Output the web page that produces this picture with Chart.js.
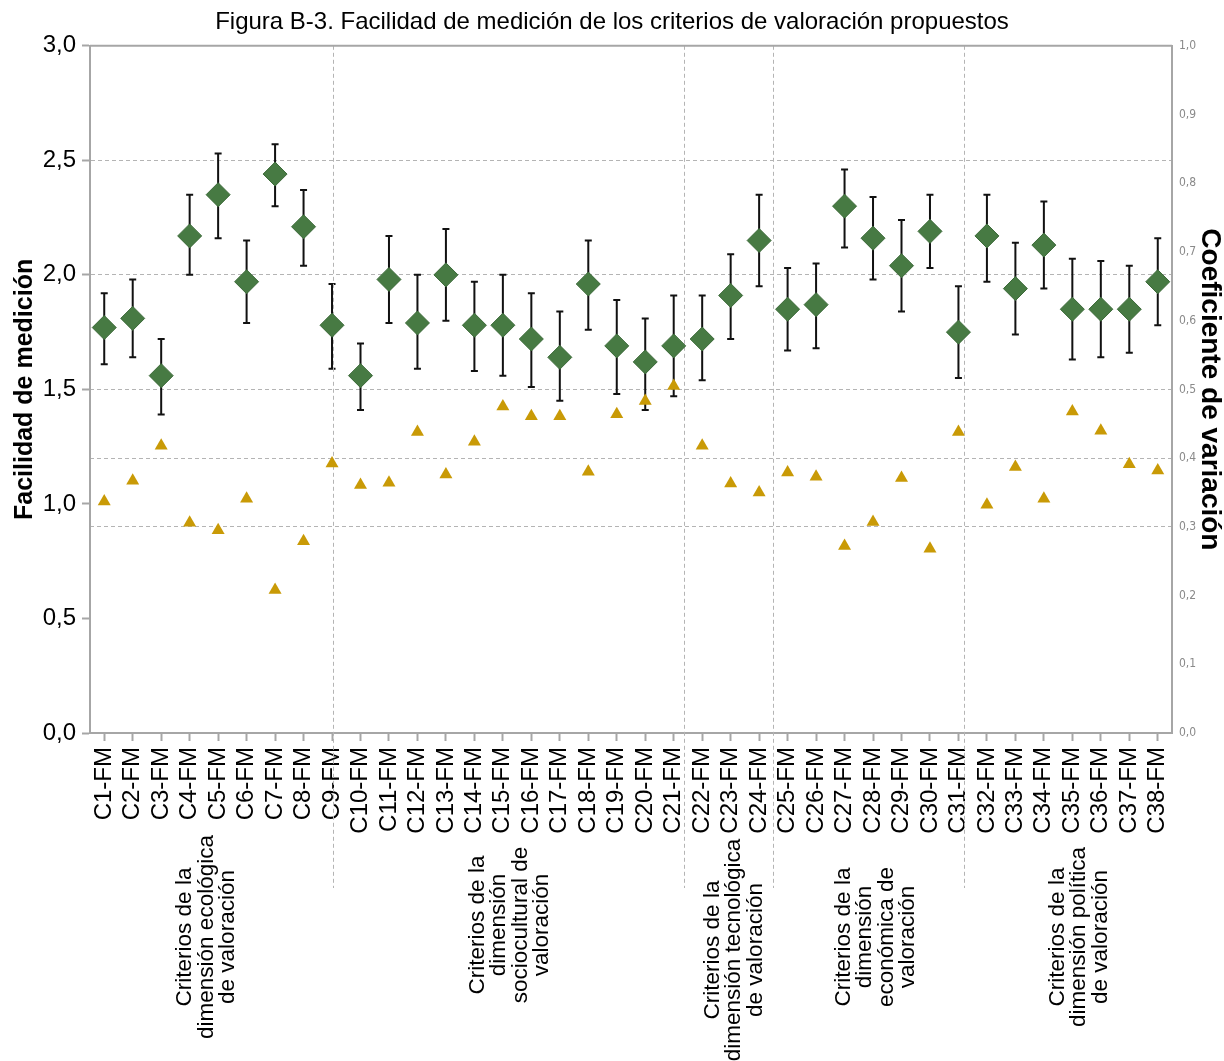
<!DOCTYPE html>
<html>
<head>
<meta charset="utf-8">
<script src="https://cdn.jsdelivr.net/npm/chart.js@4.4.1/dist/chart.umd.min.js"></script>
<style>
  html, body { margin: 0; padding: 0; background: #ffffff; }
  canvas { display: block; }
</style>
</head>
<body>
<canvas id="chart" width="1224" height="1061"></canvas>
<script>
// Criteria codes on the category axis
const categories = [
  'C1-FM','C2-FM','C3-FM','C4-FM','C5-FM','C6-FM','C7-FM','C8-FM','C9-FM','C10-FM',
  'C11-FM','C12-FM','C13-FM','C14-FM','C15-FM','C16-FM','C17-FM','C18-FM','C19-FM','C20-FM',
  'C21-FM','C22-FM','C23-FM','C24-FM','C25-FM','C26-FM','C27-FM','C28-FM','C29-FM','C30-FM',
  'C31-FM','C32-FM','C33-FM','C34-FM','C35-FM','C36-FM','C37-FM','C38-FM'
];

// Mean ease of measurement (left axis)
const facilidad = [
  1.77, 1.81, 1.56, 2.17, 2.35, 1.97, 2.44, 2.21, 1.78, 1.56,
  1.98, 1.79, 2.00, 1.78, 1.78, 1.72, 1.64, 1.96, 1.69, 1.62,
  1.69, 1.72, 1.91, 2.15, 1.85, 1.87, 2.30, 2.16, 2.04, 2.19,
  1.75, 2.17, 1.94, 2.13, 1.85, 1.85, 1.85, 1.97
];

// Upper and lower ends of the error bars
const limiteSuperior = [
  1.92, 1.98, 1.72, 2.35, 2.53, 2.15, 2.57, 2.37, 1.96, 1.70,
  2.17, 2.00, 2.20, 1.97, 2.00, 1.92, 1.84, 2.15, 1.89, 1.81,
  1.91, 1.91, 2.09, 2.35, 2.03, 2.05, 2.46, 2.34, 2.24, 2.35,
  1.95, 2.35, 2.14, 2.32, 2.07, 2.06, 2.04, 2.16
];
const limiteInferior = [
  1.61, 1.64, 1.39, 2.00, 2.16, 1.79, 2.30, 2.04, 1.59, 1.41,
  1.79, 1.59, 1.80, 1.58, 1.56, 1.51, 1.45, 1.76, 1.48, 1.41,
  1.47, 1.54, 1.72, 1.95, 1.67, 1.68, 2.12, 1.98, 1.84, 2.03,
  1.55, 1.97, 1.74, 1.94, 1.63, 1.64, 1.66, 1.78
];

// Coefficient of variation (right axis)
const coeficiente = [
  0.337, 0.367, 0.418, 0.306, 0.295, 0.341, 0.208, 0.279, 0.392, 0.361,
  0.364, 0.438, 0.376, 0.424, 0.475, 0.461, 0.461, 0.380, 0.464, 0.483,
  0.505, 0.418, 0.363, 0.350, 0.379, 0.373, 0.272, 0.307, 0.371, 0.268,
  0.438, 0.332, 0.387, 0.341, 0.468, 0.440, 0.391, 0.382
];

// Text of the dimension groups under the axis
const grupos = [
  ['Criterios de la', 'dimensión ecológica', 'de valoración'],
  ['Criterios de la', 'dimensión', 'sociocultural de', 'valoración'],
  ['Criterios de la', 'dimensión tecnológica', 'de valoración'],
  ['Criterios de la', 'dimensión', 'económica de', 'valoración'],
  ['Criterios de la', 'dimensión política', 'de valoración']
];

const FONT = "'Liberation Sans', Arial, sans-serif";
const AXIS_GREY = '#a6a6a6';
const GRID_GREY = '#b4b4b4';
const comma = v => Number(v).toFixed(1).replace('.', ',');
const near = (a, b) => Math.abs(a - b) < 1e-6;

Chart.defaults.font.family = FONT;

// Error bars behind the diamonds
const errorBars = {
  id: 'errorBars',
  beforeDatasetsDraw(chart) {
    const { ctx, scales: { x, y } } = chart;
    ctx.save();
    ctx.strokeStyle = '#111111';
    ctx.lineWidth = 2;
    for (let i = 0; i < categories.length; i++) {
      const px = x.getPixelForValue(i);
      const yt = y.getPixelForValue(limiteSuperior[i]);
      const yb = y.getPixelForValue(limiteInferior[i]);
      ctx.beginPath();
      ctx.moveTo(px, yt); ctx.lineTo(px, yb);
      ctx.moveTo(px - 3.5, yt); ctx.lineTo(px + 3.5, yt);
      ctx.moveTo(px - 3.5, yb); ctx.lineTo(px + 3.5, yb);
      ctx.stroke();
    }
    ctx.restore();
  }
};

// Frame top edge, group separators and group captions
const groupFrame = {
  id: 'groupFrame',
  beforeDatasetsDraw(chart, args, opts) {
    const { ctx, chartArea, scales: { x } } = chart;
    ctx.save();
    ctx.strokeStyle = GRID_GREY;
    ctx.lineWidth = 1;
    ctx.setLineDash([4, 3]);
    opts.dividers.forEach(d => {
      const px = Math.round(x.getPixelForValue(d)) + 0.5;
      ctx.beginPath();
      ctx.moveTo(px, chartArea.top);
      ctx.lineTo(px, x.bottom + opts.dividerTail);
      ctx.stroke();
    });
    ctx.setLineDash([]);
    ctx.strokeStyle = AXIS_GREY;
    ctx.lineWidth = 2;
    ctx.beginPath();
    ctx.moveTo(chartArea.left, chartArea.top);
    ctx.lineTo(chartArea.right, chartArea.top);
    ctx.stroke();
    ctx.restore();
  },
  afterDraw(chart, args, opts) {
    const { ctx, scales: { x } } = chart;
    ctx.save();
    ctx.fillStyle = '#000000';
    ctx.font = opts.fontSize + 'px ' + FONT;
    ctx.textAlign = 'center';
    ctx.textBaseline = 'middle';
    grupos.forEach((lines, g) => {
      const cx = x.getPixelForValue(opts.centers[g]);
      const cy = x.bottom + opts.offsets[g];
      lines.forEach((t, j) => {
        ctx.save();
        ctx.translate(cx + (j - (lines.length - 1) / 2) * opts.lineGap, cy);
        ctx.rotate(-Math.PI / 2);
        ctx.fillText(t, 0, 0);
        ctx.restore();
      });
    });
    ctx.restore();
  }
};

new Chart(document.getElementById('chart'), {
  type: 'line',
  data: {
    labels: categories,
    datasets: [
      {
        label: 'Coeficiente de variación',
        data: coeficiente,
        yAxisID: 'y1',
        showLine: false,
        pointStyle: 'triangle',
        pointRadius: 7.5,
        pointBackgroundColor: '#c99a06',
        pointBorderColor: '#c99a06',
        pointBorderWidth: 0
      },
      {
        label: 'Facilidad de medición',
        data: facilidad,
        yAxisID: 'y',
        showLine: false,
        pointStyle: 'rectRot',
        pointRadius: 12,
        pointBackgroundColor: '#477a43',
        pointBorderColor: '#3c6a39',
        pointBorderWidth: 1
      }
    ]
  },
  options: {
    responsive: false,
    animation: false,
    events: [],
    layout: { padding: { top: 0, right: 0, bottom: 228, left: 0 } },
    plugins: {
      legend: { display: false },
      tooltip: { enabled: false },
      title: {
        display: true,
        text: 'Figura B-3. Facilidad de medición de los criterios de valoración propuestos',
        color: '#000000',
        font: { size: 24, weight: 'normal' },
        padding: { top: 8, bottom: 9 }
      },
      groupFrame: {
        dividers: [8.05, 20.36, 23.47, 30.18],
        dividerTail: 55,
        centers: [3.59, 14.24, 22.12, 27.09, 34.23],
        offsets: [104, 92, 117, 104, 104],
        lineGap: 21.5,
        fontSize: 22.5
      }
    },
    scales: {
      x: {
        type: 'category',
        offset: true,
        grid: {
          drawOnChartArea: false,
          drawTicks: true,
          offset: false,
          tickLength: 8,
          tickColor: AXIS_GREY,
          tickWidth: 2
        },
        border: { display: true, color: AXIS_GREY, width: 2 },
        ticks: {
          autoSkip: false,
          minRotation: 90,
          maxRotation: 90,
          padding: 6,
          color: '#000000',
          font: { size: 24 }
        },
        afterFit(scale) { scale.height = 100; }
      },
      y: {
        position: 'left',
        min: 0,
        max: 3,
        ticks: {
          stepSize: 0.5,
          padding: 6,
          color: '#000000',
          font: { size: 24 },
          callback: v => comma(v)
        },
        grid: {
          drawOnChartArea: true,
          color: c => (c.tick && (near(c.tick.value, 2) || near(c.tick.value, 2.5))) ? GRID_GREY : 'rgba(0,0,0,0)',
          lineWidth: 1,
          tickLength: 8,
          tickColor: AXIS_GREY,
          tickWidth: 2
        },
        border: { display: true, color: AXIS_GREY, width: 2, dash: [4, 3] },
        title: {
          display: true,
          text: 'Facilidad de medición',
          color: '#000000',
          font: { size: 25, weight: 'bold' },
          padding: { top: 10, bottom: 0 }
        },
        afterFit(scale) { scale.width = 90; }
      },
      y1: {
        position: 'right',
        min: 0,
        max: 1,
        ticks: {
          stepSize: 0.1,
          padding: 7,
          color: '#8a8a8a',
          font: { size: 12, family: "'Liberation Sans Narrow', 'DejaVu Sans Condensed', sans-serif" },
          callback: v => comma(v)
        },
        grid: {
          drawOnChartArea: true,
          drawTicks: false,
          color: c => (c.tick && (near(c.tick.value, 0.3) || near(c.tick.value, 0.4) || near(c.tick.value, 0.5))) ? GRID_GREY : 'rgba(0,0,0,0)',
          lineWidth: 1
        },
        border: { display: true, color: AXIS_GREY, width: 2, dash: [4, 3] },
        title: {
          display: true,
          text: 'Coeficiente de variación',
          color: '#000000',
          font: { size: 28, weight: 'bold', lineHeight: 1 },
          padding: { top: 0, bottom: 0 }
        },
        afterFit(scale) { scale.width = 52; }
      }
    }
  },
  plugins: [errorBars, groupFrame]
});
</script>
</body>
</html>
